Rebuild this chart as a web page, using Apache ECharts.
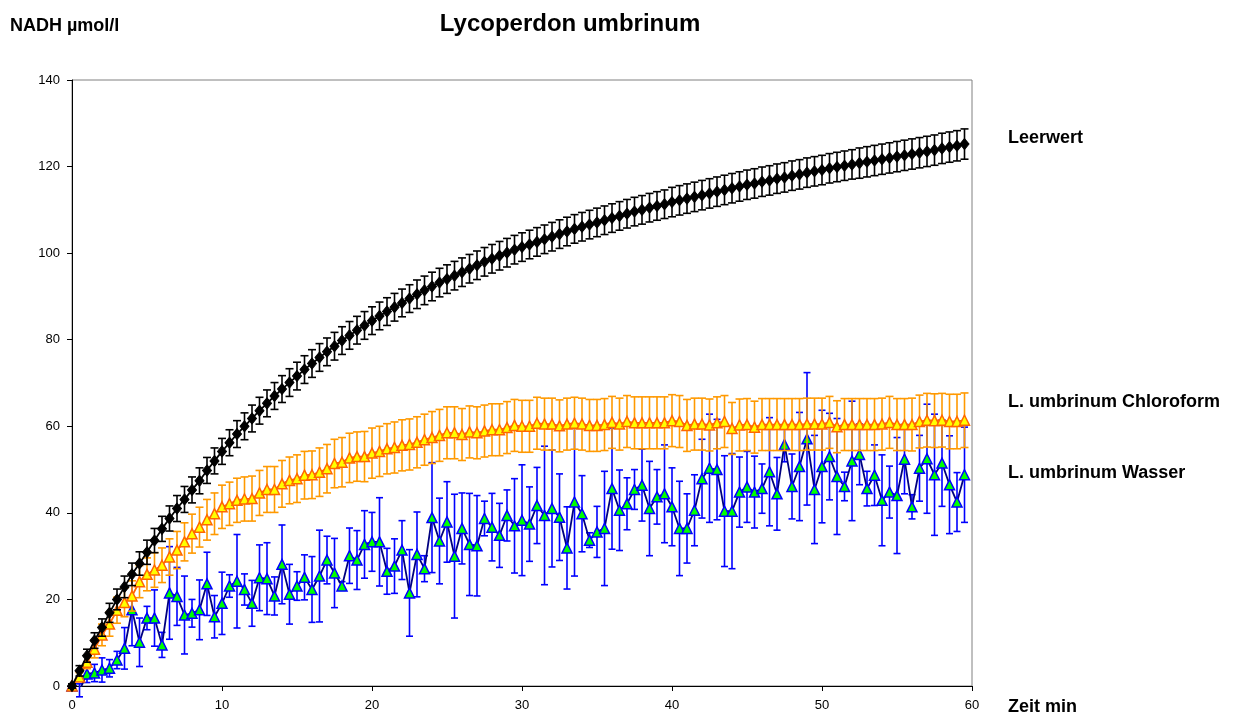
<!DOCTYPE html>
<html>
<head>
<meta charset="utf-8">
<script src="https://cdn.jsdelivr.net/npm/echarts@6/dist/echarts.min.js"></script>
<style>
html,body{margin:0;padding:0;background:#fff;}
#chart{width:1237px;height:724px;}
</style>
</head>
<body>
<div id="chart"></div>
<script>
// time (min)
const times = [0,0.5,1,1.5,2,2.5,3,3.5,4,4.5,5,5.5,6,6.5,7,7.5,8,8.5,9,9.5,
10,10.5,11,11.5,12,12.5,13,13.5,14,14.5,15,15.5,16,16.5,17,17.5,18,18.5,19,19.5,
20,20.5,21,21.5,22,22.5,23,23.5,24,24.5,25,25.5,26,26.5,27,27.5,28,28.5,29,29.5,
30,30.5,31,31.5,32,32.5,33,33.5,34,34.5,35,35.5,36,36.5,37,37.5,38,38.5,39,39.5,
40,40.5,41,41.5,42,42.5,43,43.5,44,44.5,45,45.5,46,46.5,47,47.5,48,48.5,49,49.5,
50,50.5,51,51.5,52,52.5,53,53.5,54,54.5,55,55.5,56,56.5,57,57.5,58,58.5,59,59.5];

// Leerwert
const leerwert = [0,3.5,7.0,10.5,13.5,16.9,20.0,22.9,25.8,28.3,30.9,33.6,36.3,38.7,41.0,43.1,45.3,47.4,49.8,52.0,
54.2,56.2,58.2,60.0,61.8,63.6,65.3,67.0,68.6,70.1,71.6,73.1,74.5,75.9,77.2,78.5,79.8,81.0,82.2,83.3,
84.4,85.5,86.5,87.5,88.5,89.5,90.5,91.4,92.3,93.2,94.0,94.8,95.6,96.4,97.2,98.0,98.7,99.4,100.1,100.8,
101.4,102.0,102.6,103.2,103.8,104.4,105.0,105.6,106.1,106.6,107.1,107.6,108.1,108.6,109.1,109.6,110.0,110.5,110.9,111.3,
111.8,112.2,112.6,113.0,113.4,113.8,114.2,114.6,115.0,115.4,115.8,116.1,116.5,116.8,117.2,117.5,117.9,118.2,118.6,118.9,
119.2,119.6,119.9,120.2,120.5,120.8,121.1,121.4,121.7,122.0,122.3,122.6,122.9,123.2,123.5,123.8,124.2,124.5,124.8,125.2];
const leerwertErr = [0.5,1.2,1.5,1.8,2.0,2.2,2.4,2.5,2.6,2.7,2.8,2.8,2.9,2.9,3.0,3.0,3.0,3.0,3.0,3.0,
3.0,3.0,3.1,3.1,3.1,3.1,3.1,3.1,3.1,3.2,3.2,3.2,3.2,3.2,3.2,3.2,3.2,3.2,3.2,3.2,
3.2,3.2,3.2,3.2,3.2,3.2,3.3,3.3,3.3,3.3,3.3,3.3,3.3,3.3,3.3,3.3,3.3,3.3,3.3,3.3,
3.3,3.3,3.3,3.3,3.3,3.3,3.3,3.3,3.3,3.3,3.3,3.3,3.3,3.3,3.3,3.3,3.3,3.3,3.3,3.3,
3.4,3.4,3.4,3.4,3.4,3.4,3.4,3.4,3.4,3.4,3.4,3.4,3.4,3.4,3.4,3.4,3.4,3.4,3.4,3.4,
3.4,3.4,3.4,3.4,3.4,3.5,3.5,3.5,3.5,3.5,3.5,3.5,3.5,3.5,3.5,3.5,3.5,3.5,3.5,3.5];

// L. umbrinum Chloroform
const chloroform = [0,2.1,5.5,8.5,11.8,14.3,17.5,19.3,20.8,24.1,25.8,26.8,27.9,29.8,31.4,33.3,35.2,36.7,38.4,39.8,
41.4,42.1,42.9,43.2,43.3,44.6,45.4,45.4,46.7,47.5,47.9,48.7,48.8,49.4,50.2,51.4,51.7,52.7,53.0,53.0,
53.8,54.2,54.8,55.1,55.6,55.8,56.3,56.9,57.4,57.9,58.5,58.5,58.1,58.7,58.5,58.9,59.2,59.2,59.7,60.2,
60.0,60.0,60.7,60.5,60.5,60.1,60.5,60.7,60.5,60.2,60.2,60.4,60.9,60.5,61.1,60.8,60.8,60.8,60.8,60.8,
61.3,61.1,60.2,60.5,60.5,60.3,60.8,61.1,59.5,60.3,60.4,59.8,60.4,60.4,60.4,60.4,60.4,60.4,60.5,60.5,
60.5,60.9,59.9,60.4,60.4,60.4,60.4,60.4,60.5,60.9,60.4,60.4,60.4,61.1,61.4,61.3,61.4,61.1,61.1,61.4];
const chloroformErr = [0,1.0,1.5,2.0,2.5,2.8,3.0,3.3,3.5,3.7,3.8,4.0,4.0,4.2,4.3,4.4,4.5,4.6,4.7,4.8,
5.0,5.0,5.1,5.1,5.2,5.2,5.3,5.3,5.4,5.4,5.5,5.5,5.5,5.6,5.6,5.6,5.7,5.7,5.7,5.8,
5.8,5.8,5.8,5.9,5.9,5.9,5.9,5.9,6.0,6.0,6.0,6.0,6.0,6.0,6.0,6.0,6.0,6.0,6.0,6.0,
6.0,6.0,6.0,6.0,6.0,6.0,6.0,6.0,6.0,6.0,6.0,6.0,6.0,6.0,6.0,6.0,6.0,6.0,6.0,6.0,
6.0,6.0,6.0,6.0,6.0,6.0,6.0,6.0,6.0,6.0,6.0,6.0,6.0,6.0,6.0,6.0,6.0,6.0,6.0,6.0,
6.0,6.0,6.0,6.0,6.0,6.0,6.0,6.0,6.0,6.0,6.0,6.0,6.1,6.1,6.2,6.2,6.2,6.3,6.3,6.3];

// L. umbrinum Wasser
const wasser = [0,-1.0,2.8,3.0,3.7,4.1,6.0,8.7,17.6,10.1,15.7,15.7,9.5,21.5,20.7,16.4,16.8,17.6,23.6,16.0,
19.1,23.1,24.2,22.3,19.1,25.0,24.8,20.8,28.1,21.2,23.1,25.1,22.3,25.4,29.1,26.1,23.1,30.1,29.1,32.7,
33.3,33.3,26.5,27.7,31.4,21.5,30.4,27.1,38.9,33.5,37.9,30.0,36.4,32.7,32.4,38.7,36.7,34.8,39.4,37.0,
38.3,37.4,41.7,39.4,41.0,39.0,31.9,42.5,39.8,33.7,35.6,36.4,45.6,40.6,42.1,45.4,46.4,41.0,43.7,44.4,
41.4,36.4,36.4,40.6,47.9,50.3,50.0,40.4,40.4,44.8,46.0,44.8,45.6,49.5,44.4,55.8,46.1,50.7,57.1,45.4,
50.7,53.0,48.4,46.1,52.0,53.5,45.6,48.7,42.9,44.8,44.0,52.4,41.4,50.3,52.5,48.8,51.5,46.5,42.5,48.8];
const wasserErr = [0.5,1.5,2.0,2.0,2.8,2.0,2.0,4.8,8.3,5.6,2.7,6.5,2.9,10.7,6.7,9.0,3.2,6.9,7.3,4.9,
7.2,2.6,10.8,3.6,5.3,7.6,8.3,4.4,9.1,6.9,3.3,5.2,7.6,10.6,5.5,8.0,1.0,6.4,6.8,7.8,
6.8,10.2,5.3,6.3,6.8,10.0,9.8,3.0,12.7,9.9,9.3,14.3,8.2,11.8,11.6,4.0,7.8,7.4,5.9,10.9,
12.8,8.6,8.8,16.0,13.5,10.0,9.5,17.1,8.8,1.7,5.9,13.2,14.0,9.3,6.0,4.6,8.3,10.9,6.3,11.3,
9.0,10.9,8.0,8.2,9.1,12.5,11.6,12.8,13.3,8.1,8.2,8.3,5.7,12.5,8.4,4.0,7.5,12.5,15.3,12.5,
13.0,10.0,13.4,3.3,13.8,7.0,4.0,7.0,10.5,6.0,13.4,8.0,2.8,7.6,12.6,14.0,10.0,11.3,6.8,11.0];

const FONT = '"Liberation Sans", Arial, sans-serif';

function pairs(vals){ return times.map((t,i)=>[t, vals[i]]); }
function errData(vals, errs){ return times.map((t,i)=>[t, vals[i]-errs[i], vals[i]+errs[i]]); }

function errSeries(vals, errs, color, z, cap){
  return {
    type: 'custom',
    z: z,
    silent: true,
    animation: false,
    encode: {x: 0, y: [1, 2]},
    data: errData(vals, errs),
    renderItem: function(params, api){
      const lo = api.coord([api.value(0), api.value(1)]);
      const hi = api.coord([api.value(0), api.value(2)]);
      const st = {stroke: color, lineWidth: 1.6};
      return {
        type: 'group',
        children: [
          {type: 'line', shape: {x1: lo[0], y1: lo[1], x2: hi[0], y2: hi[1]}, style: st},
          {type: 'line', shape: {x1: lo[0]-cap, y1: lo[1], x2: lo[0]+cap, y2: lo[1]}, style: st},
          {type: 'line', shape: {x1: hi[0]-cap, y1: hi[1], x2: hi[0]+cap, y2: hi[1]}, style: st}
        ]
      };
    }
  };
}

function label(text, x, y, size){
  return {type: 'text', x: x, y: y,
    style: {text: text, font: 'bold ' + size + 'px ' + FONT, fill: '#000', verticalAlign: 'middle', textVerticalAlign: 'middle'}};
}

const chart = echarts.init(document.getElementById('chart'), null, {renderer: 'canvas'});
chart.setOption({
  backgroundColor: '#fff',
  animation: false,
  textStyle: {fontFamily: FONT},
  grid: {left: 72, top: 80, width: 900, height: 606, show: true, borderColor: '#808080', borderWidth: 1, containLabel: false},
  xAxis: {
    type: 'value', min: 0, max: 60, interval: 10,
    axisLine: {show: true, lineStyle: {color: '#000', width: 1}},
    axisTick: {show: true, inside: false, length: 5, lineStyle: {color: '#000'}},
    axisLabel: {margin: 13, fontSize: 13, color: '#000', fontFamily: FONT},
    splitLine: {show: false}
  },
  yAxis: {
    type: 'value', min: 0, max: 140, interval: 20,
    axisLine: {show: true, lineStyle: {color: '#000', width: 1}},
    axisTick: {show: true, inside: false, length: 5, lineStyle: {color: '#000'}},
    axisLabel: {margin: 12, fontSize: 13, color: '#000', fontFamily: FONT},
    splitLine: {show: false}
  },
  graphic: [
    {type: 'text', x: 570, y: 24,
      style: {text: 'Lycoperdon umbrinum', font: 'bold 24px ' + FONT, fill: '#000', align: 'center', textAlign: 'center', verticalAlign: 'middle', textVerticalAlign: 'middle'}},
    label('NADH µmol/l', 10, 26, 18),
    label('Leerwert', 1008, 138, 18),
    label('L. umbrinum Chloroform', 1008, 402, 18),
    label('L. umbrinum Wasser', 1008, 473, 18),
    label('Zeit min', 1008, 707, 18)
  ],
  series: [
    errSeries(wasser, wasserErr, '#0000FF', 1, 3.5),
    {
      name: 'L. umbrinum Wasser', type: 'line', z: 2, data: pairs(wasser),
      symbol: 'triangle', symbolSize: 10,
      lineStyle: {color: '#000080', width: 1.8},
      itemStyle: {color: '#00FF00', borderColor: '#0000FF', borderWidth: 1.5},
      emphasis: {disabled: true}
    },
    errSeries(chloroform, chloroformErr, '#FF9900', 3, 4),
    {
      name: 'L. umbrinum Chloroform', type: 'line', z: 4, data: pairs(chloroform),
      symbol: 'triangle', symbolSize: 10,
      lineStyle: {color: '#FF6600', width: 1.8},
      itemStyle: {color: '#FFFF00', borderColor: '#FF6600', borderWidth: 1.5},
      emphasis: {disabled: true}
    },
    errSeries(leerwert, leerwertErr, '#000000', 5, 4),
    {
      name: 'Leerwert', type: 'line', z: 6, data: pairs(leerwert),
      symbol: 'diamond', symbolSize: [9, 11],
      lineStyle: {color: '#000', width: 1.8},
      itemStyle: {color: '#000', borderColor: '#000', borderWidth: 1},
      emphasis: {disabled: true}
    }
  ]
});
</script>
</body>
</html>
